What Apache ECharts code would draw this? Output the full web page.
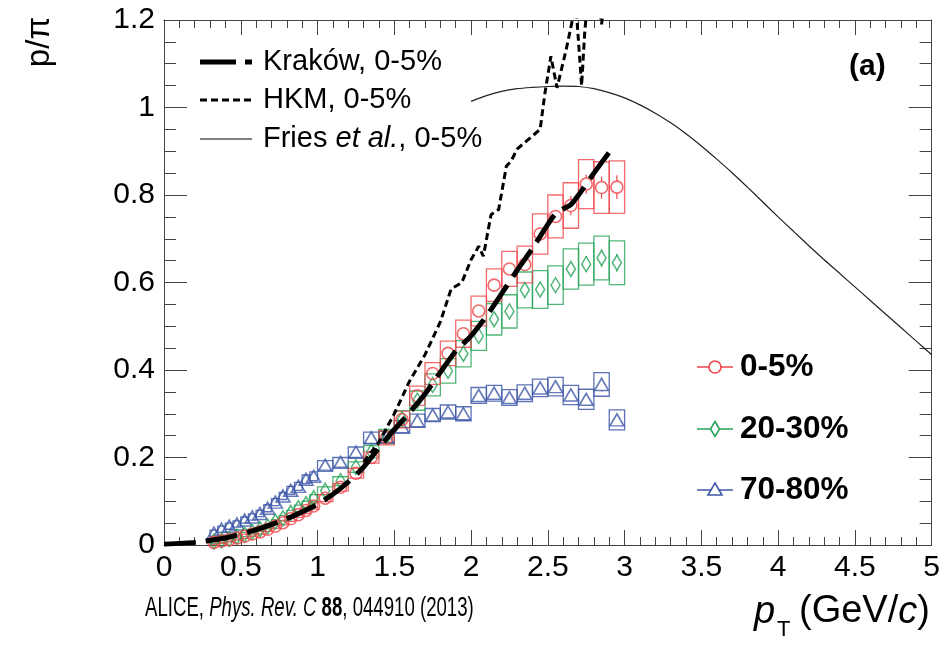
<!DOCTYPE html>
<html><head><meta charset="utf-8">
<script src="https://cdn.jsdelivr.net/npm/echarts@6/dist/echarts.min.js"></script>
<style>html,body{margin:0;padding:0;background:#fff}#c{width:943px;height:645px}</style>
</head><body><div id="c"></div>
<script>
// ---------- data ----------
const pT = [0.325,0.375,0.425,0.475,0.525,0.575,0.625,0.675,0.725,0.775,0.825,0.875,0.925,0.975,
  1.05,1.15,1.25,1.35,1.45,1.55,1.65,1.75,1.85,1.95,2.05,2.15,2.25,2.35,2.45,2.55,2.65,2.75,2.85,2.95];
const binW = [0.05,0.05,0.05,0.05,0.05,0.05,0.05,0.05,0.05,0.05,0.05,0.05,0.05,0.05,
  0.1,0.1,0.1,0.1,0.1,0.1,0.1,0.1,0.1,0.1,0.1,0.1,0.1,0.1,0.1,0.1,0.1,0.1,0.1,0.1];

const c0_5 = [0.006,0.009,0.012,0.016,0.020,0.025,0.030,0.036,0.043,0.051,0.060,0.069,0.079,0.089,
  0.107,0.132,0.164,0.200,0.245,0.287,0.341,0.392,0.438,0.483,0.535,0.594,0.631,0.641,0.711,0.751,0.776,0.825,0.817,0.818];
const c0_5sys = [0.005,0.005,0.005,0.005,0.005,0.005,0.005,0.005,0.005,0.005,0.006,0.006,0.007,0.007,
  0.008,0.009,0.011,0.013,0.016,0.019,0.022,0.025,0.028,0.031,0.034,0.037,0.040,0.042,0.046,0.049,0.052,0.056,0.059,0.060];
const c0_5stat = [0,0,0,0,0,0,0,0,0,0,0,0,0,0,
  0,0,0,0,0,0,0,0,0,0,0.004,0.006,0.008,0.010,0.012,0.015,0.022,0.022,0.025,0.027];

const c20_30 = [0.008,0.011,0.014,0.019,0.024,0.030,0.036,0.042,0.053,0.061,0.073,0.084,0.093,0.107,
  0.124,0.146,0.178,0.213,0.248,0.288,0.330,0.366,0.398,0.437,0.478,0.516,0.534,0.583,0.584,0.594,0.631,0.642,0.656,0.645];
const c20_30sys = [0.005,0.005,0.005,0.005,0.005,0.005,0.005,0.005,0.005,0.006,0.006,0.007,0.007,0.008,
  0.009,0.010,0.012,0.014,0.016,0.019,0.022,0.025,0.028,0.030,0.033,0.036,0.038,0.041,0.043,0.044,0.046,0.048,0.050,0.050];
const c20_30stat = [0,0,0,0,0,0,0,0,0,0,0,0,0,0,
  0,0,0,0,0,0,0,0,0,0,0,0.005,0.007,0.009,0.012,0.014,0.016,0.018,0.020,0.020];

const c70_80 = [0.027,0.036,0.043,0.048,0.057,0.064,0.072,0.084,0.098,0.112,0.125,0.134,0.150,0.157,
  0.182,0.189,0.212,0.245,0.247,0.270,0.284,0.297,0.304,0.300,0.342,0.347,0.337,0.347,0.359,0.362,0.343,0.333,0.367,0.286];
const c70_80sys = [0.007,0.007,0.007,0.007,0.007,0.007,0.007,0.008,0.008,0.008,0.009,0.009,0.010,0.010,
  0.011,0.011,0.012,0.013,0.013,0.014,0.015,0.015,0.016,0.016,0.018,0.018,0.018,0.019,0.020,0.021,0.022,0.023,0.027,0.023];
const c70_80stat = [0,0,0,0,0,0,0,0,0,0,0,0,0,0,
  0,0,0,0,0,0,0,0,0,0,0,0,0.008,0.009,0.010,0.011,0.012,0.013,0.016,0.013];

const krakowX = [0,0.2,0.4,0.6,0.8,1.0,1.1,1.2,1.3,1.4,1.5,1.6,1.7,1.8,1.9,2.0,2.1,2.2,2.3,2.4,2.5,2.55,2.6,2.65,2.7,2.8,2.9,2.935];
const krakowY = [0.002,0.006,0.016,0.035,0.060,0.093,0.116,0.144,0.178,0.222,0.264,0.303,0.345,0.395,0.443,0.478,0.523,0.575,0.628,0.678,0.733,0.757,0.768,0.778,0.800,0.850,0.898,0.915];

const hkmX = [1.30,1.40,1.50,1.60,1.70,1.80,1.87,1.94,2.00,2.05,2.08,2.13,2.18,2.23,2.26,2.30,2.40,2.45,2.48,2.52,2.56,2.62,2.66,2.68,2.70,2.72,2.74,2.76,2.83,2.85,2.87];
const hkmY = [0.190,0.235,0.300,0.375,0.435,0.510,0.585,0.600,0.652,0.683,0.660,0.755,0.767,0.866,0.877,0.905,0.935,0.950,1.030,1.117,1.045,1.133,1.200,1.250,1.150,1.050,1.170,1.250,1.250,1.190,1.250];

const friesX = [2.0,2.1,2.2,2.3,2.4,2.5,2.6,2.7,2.8,2.9,3.0,3.1,3.2,3.3,3.4,3.5,3.6,3.7,3.8,3.9,4.0,4.1,4.2,4.3,4.4,4.5,4.6,4.7,4.8,4.9,5.0];
const friesY = [1.014,1.027,1.037,1.043,1.046,1.048,1.049,1.048,1.043,1.034,1.022,1.006,0.987,0.965,0.940,0.912,0.882,0.851,0.818,0.784,0.750,0.717,0.684,0.652,0.621,0.590,0.559,0.528,0.497,0.466,0.435];

const xTicks = [0,0.5,1,1.5,2,2.5,3,3.5,4,4.5,5];
const yTicks = [0,0.2,0.4,0.6,0.8,1,1.2];

// ---------- styles ----------
const RED = '#ef4449', GREEN = '#25a257', BLUE = '#4059a9';
const RED_BOX = 'rgba(239,68,73,0.8)', GREEN_BOX = 'rgba(37,162,87,0.8)', BLUE_BOX = 'rgba(64,89,169,0.85)';
const FONT = '"Liberation Sans", Arial, Helvetica, sans-serif';

function boxSeries(vals, sys, stat, color, boxColor, half) {
  return {
    type: 'custom', z: 2, silent: true,
    data: pT.map((x, i) => [x, vals[i], sys[i], stat[i], binW[i]]),
    encode: { x: 0, y: 1 },
    renderItem(params, api) {
      const x = api.value(0), y = api.value(1), s = api.value(2), st = api.value(3), w = api.value(4);
      const a = api.coord([x - w / 2, y + s]), b = api.coord([x + w / 2, y - s]);
      const ch = [{ type: 'rect', shape: { x: a[0], y: a[1], width: b[0] - a[0], height: b[1] - a[1] },
        style: { fill: 'none', stroke: boxColor, lineWidth: 1.3 } }];
      if (st > 0) {
        const c = api.coord([x, y]), t = api.coord([x, y + st]), d = api.coord([x, y - st]);
        if (c[1] - t[1] > half) {
          ch.push({ type: 'line', shape: { x1: c[0], y1: t[1], x2: c[0], y2: c[1] - half }, style: { stroke: color, lineWidth: 1.2 } });
          ch.push({ type: 'line', shape: { x1: c[0], y1: c[1] + half, x2: c[0], y2: d[1] }, style: { stroke: color, lineWidth: 1.2 } });
        }
      }
      return { type: 'group', children: ch };
    }
  };
}
function markSeries(vals, symbol, size, color) {
  return {
    type: 'scatter', z: 3, silent: true, symbol, symbolSize: size,
    data: pT.map((x, i) => [x, vals[i]]),
    itemStyle: { color: 'rgba(0,0,0,0)', borderColor: color, borderWidth: 1.6 }
  };
}
const lineSer = (xs, ys, style, smooth) => ({
  type: 'line', z: 4, silent: true, symbol: 'none', clip: true, smooth: smooth,
  data: xs.map((x, i) => [x, ys[i]]), lineStyle: style
});

const axisCol = '#444';
const xBase = {
  type: 'value', min: 0, max: 5, interval: 0.5,
  axisLine: { show: true, onZero: false, lineStyle: { color: axisCol, width: 1 } },
  splitLine: { show: false },
  minorTick: { show: true, splitNumber: 5, length: 8, lineStyle: { color: axisCol } },
  axisTick: { show: true, inside: true, length: 15, lineStyle: { color: axisCol } }
};
const yBase = {
  type: 'value', min: 0, max: 1.2, interval: 0.2,
  axisLine: { show: true, onZero: false, lineStyle: { color: axisCol, width: 1 } },
  splitLine: { show: false },
  minorTick: { show: true, splitNumber: 4, length: 12, lineStyle: { color: axisCol } },
  axisTick: { show: true, inside: true, length: 23, lineStyle: { color: axisCol } }
};

const chart = echarts.init(document.getElementById('c'));
const txt = (x, y, text, font, extra) => Object.assign({ type: 'text', x, y, z: 10, silent: true,
  style: Object.assign({ text, font, fill: '#000', textVerticalAlign: 'middle' }, extra || {}) });

chart.setOption({
  animation: false,
  backgroundColor: '#fff',
  grid: { left: 164, right: 6, top: 20, bottom: 100 },
  xAxis: [
    Object.assign({}, xBase, { position: 'bottom',
      axisLabel: { show: true, fontSize: 30, fontFamily: FONT, color: '#000', margin: 8,
        formatter: v => (xTicks.indexOf(v) >= 0 ? String(v) : '') } }),
    Object.assign({}, xBase, { position: 'top', axisLabel: { show: false } })
  ],
  yAxis: [
    Object.assign({}, yBase, { position: 'left',
      axisLabel: { show: true, fontSize: 30, fontFamily: FONT, color: '#000', margin: 9,
        formatter: v => (yTicks.indexOf(v) >= 0 ? String(v) : '') } }),
    Object.assign({}, yBase, { position: 'right', axisLabel: { show: false } })
  ],
  series: [
    boxSeries(c70_80, c70_80sys, c70_80stat, BLUE, BLUE_BOX, 6),
    boxSeries(c20_30, c20_30sys, c20_30stat, GREEN, GREEN_BOX, 7),
    boxSeries(c0_5, c0_5sys, c0_5stat, RED, RED_BOX, 6),
    markSeries(c70_80, 'triangle', [14, 12], BLUE),
    markSeries(c20_30, 'diamond', [9, 15], GREEN),
    markSeries(c0_5, 'circle', 12, RED),
    lineSer(friesX, friesY, { color: '#222', width: 1.2 }, 0.3),
    lineSer(hkmX, hkmY, { color: '#000', width: 3, type: [7, 4] }, false),
    lineSer(krakowX, krakowY, { color: '#000', width: 5, type: [32, 10] }, 0.2)
  ],
  graphic: [
    // model legend
    { type: 'line', z: 10, shape: { x1: 200, y1: 62, x2: 252, y2: 62 }, style: { stroke: '#000', lineWidth: 5, lineDash: [36, 9] } },
    { type: 'line', z: 10, shape: { x1: 200, y1: 100, x2: 252, y2: 100 }, style: { stroke: '#000', lineWidth: 3, lineDash: [7, 4] } },
    { type: 'line', z: 10, shape: { x1: 200, y1: 139, x2: 252, y2: 139 }, style: { stroke: '#000', lineWidth: 1 } },
    txt(263, 62, 'Kraków, 0-5%', '29px ' + FONT),
    txt(263, 100, 'HKM, 0-5%', '29px ' + FONT),
    { type: 'text', x: 263, y: 139, z: 10, style: { text: 'Fries {i|et al.}, 0-5%', font: '29px ' + FONT, fill: '#000', textVerticalAlign: 'middle',
      rich: { i: { fontStyle: 'italic', fontSize: 29, fontFamily: FONT } } } },
    txt(849, 67, '(a)', 'bold 30px ' + FONT),
    // centrality legend
    { type: 'line', z: 10, shape: { x1: 697, y1: 367, x2: 733, y2: 367 }, style: { stroke: RED, lineWidth: 1.3 } },
    { type: 'circle', z: 11, shape: { cx: 715, cy: 367, r: 6 }, style: { fill: '#fff', stroke: RED, lineWidth: 1.6 } },
    { type: 'line', z: 10, shape: { x1: 697, y1: 429, x2: 733, y2: 429 }, style: { stroke: GREEN, lineWidth: 1.3 } },
    { type: 'polygon', z: 11, shape: { points: [[715, 421.5], [719.5, 429], [715, 436.5], [710.5, 429]] }, style: { fill: '#fff', stroke: GREEN, lineWidth: 1.6 } },
    { type: 'line', z: 10, shape: { x1: 697, y1: 490, x2: 733, y2: 490 }, style: { stroke: BLUE, lineWidth: 1.3 } },
    { type: 'polygon', z: 11, shape: { points: [[715, 483], [722, 495], [708, 495]] }, style: { fill: '#fff', stroke: BLUE, lineWidth: 1.6 } },
    txt(740, 367, '0-5%', 'bold 31.5px ' + FONT),
    txt(740, 429, '20-30%', 'bold 31.5px ' + FONT),
    txt(740, 490, '70-80%', 'bold 31.5px ' + FONT),
    // axis titles
    { type: 'text', x: 40, y: 42, rotation: Math.PI / 2, z: 10,
      style: { text: 'p/π', font: '33px ' + FONT, fill: '#000', textAlign: 'center', textVerticalAlign: 'middle' } },
    txt(754, 612, 'p', 'italic 38px ' + FONT),
    txt(777, 630, 'T', '22px ' + FONT),
    { type: 'text', x: 799, y: 612, z: 10, style: { text: '(GeV/{i|c})', font: '38px ' + FONT, fill: '#000', textVerticalAlign: 'middle',
      rich: { i: { fontStyle: 'italic', fontSize: 38, fontFamily: FONT } } } },
    { type: 'text', x: 145, y: 608, z: 10, scaleX: 0.665,
      style: { text: 'ALICE, {i|Phys. Rev. C} {b|88}, 044910 (2013)', font: '28px ' + FONT, fill: '#000', textVerticalAlign: 'middle',
        rich: { i: { fontStyle: 'italic', fontSize: 28, fontFamily: FONT }, b: { fontWeight: 'bold', fontSize: 28, fontFamily: FONT } } } }
  ]
});
</script></body></html>
